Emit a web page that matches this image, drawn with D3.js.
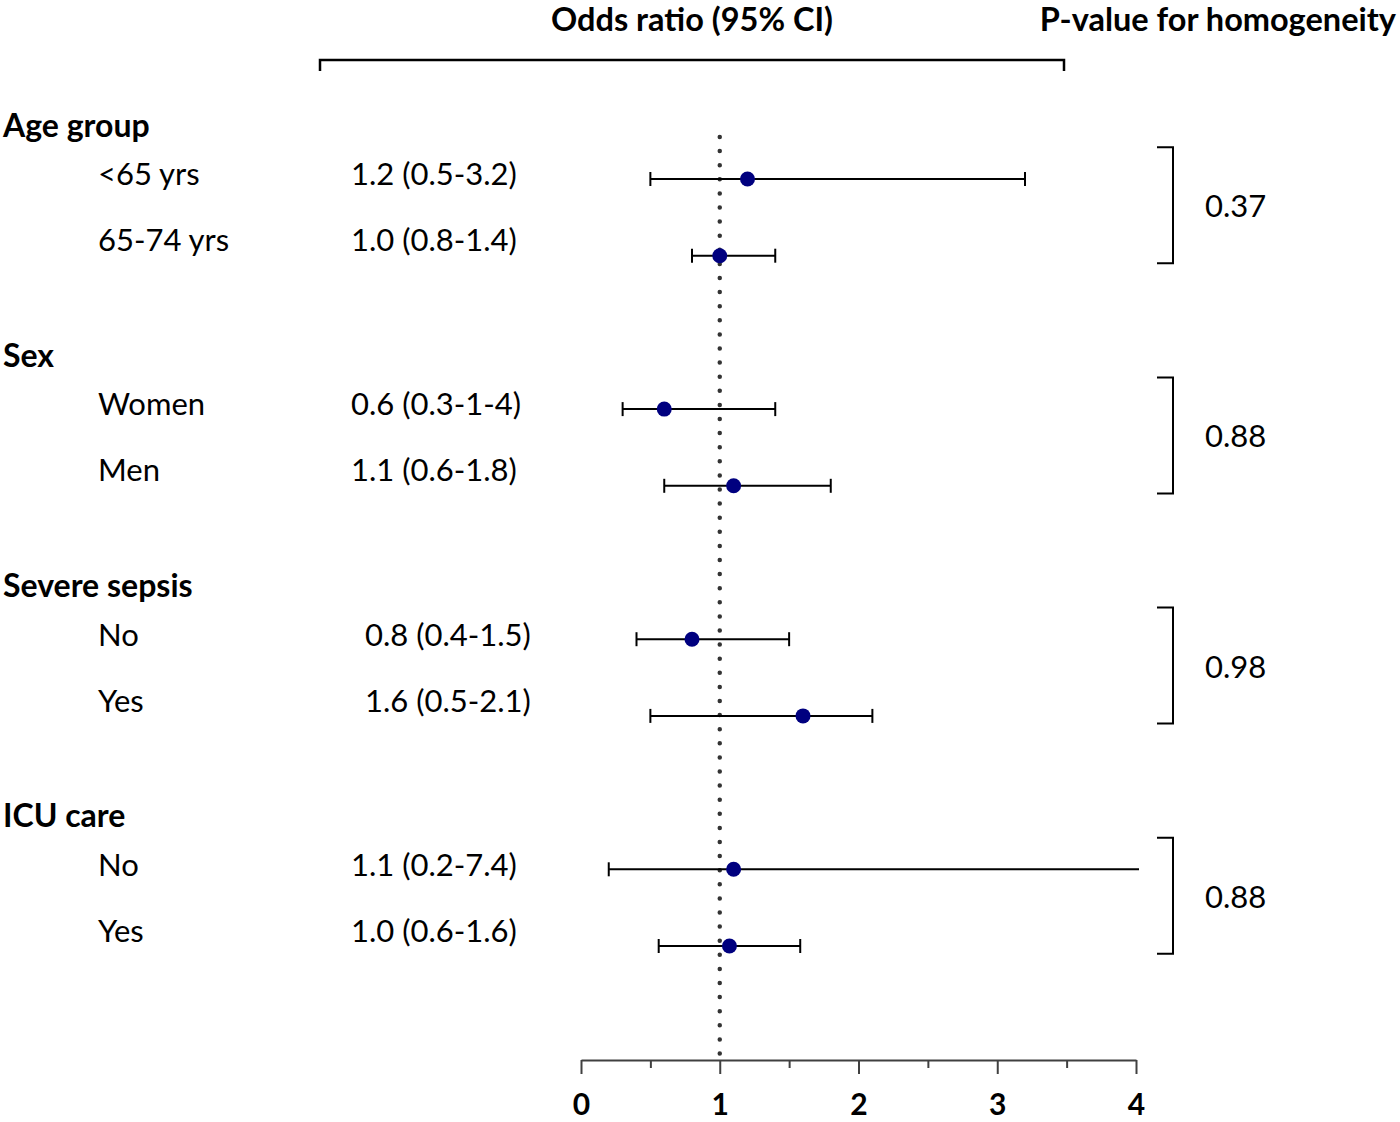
<!DOCTYPE html>
<html>
<head>
<meta charset="utf-8">
<script src="https://cdn.jsdelivr.net/npm/d3@7"></script>
<style>
  body { margin: 0; background: #fff; }
  svg { display: block; }
  text { font-family: Lato, "Open Sans", sans-serif; fill: #000; }
</style>
</head>
<body>
<div id="chart"></div>
<script>
// subgroup data
const groups = ["Age group", "Sex", "Severe sepsis", "ICU care"];
const rowLabels = ["<65 yrs", "65-74 yrs", "Women", "Men", "No", "Yes", "No", "Yes"];
const rowGroup = [0, 0, 1, 1, 2, 2, 3, 3];
const orText = ["1.2 (0.5-3.2)", "1.0 (0.8-1.4)", "0.6 (0.3-1-4)", "1.1 (0.6-1.8)",
                "0.8 (0.4-1.5)", "1.6 (0.5-2.1)", "1.1 (0.2-7.4)", "1.0 (0.6-1.6)"];
const orValue = [1.2, 1.0, 0.6, 1.1, 0.8, 1.6, 1.1, 1.07];
const ciLow = [0.5, 0.8, 0.3, 0.6, 0.4, 0.5, 0.2, 0.56];
const ciHigh = [3.2, 1.4, 1.4, 1.8, 1.5, 2.1, 7.4, 1.58];
const pValues = ["0.37", "0.88", "0.98", "0.88"];
const xTicks = [0, 1, 2, 3, 4];
const xMinorTicks = [0.5, 1.5, 2.5, 3.5];

const width = 1400, height = 1122;

const svg = d3.select("#chart").append("svg")
    .attr("width", width)
    .attr("height", height);

const x = d3.scaleLinear().domain([0, 4]).range([581, 1136]);
// each group takes 3 slots, rows sit in the first two
const y = d3.scaleLinear().domain([0, 10]).range([179, 946]);
const slot = i => rowGroup[i] * 3 + (i % 2);
const axisY = 1060;

// headers
svg.append("text")
    .attr("x", 692).attr("y", 18)
    .attr("text-anchor", "middle")
    .attr("dominant-baseline", "central")
    .style("font-size", "32.5px").style("font-weight", "bold")
    .text("Odds ratio (95% CI)");

svg.append("text")
    .attr("x", 1396).attr("y", 18)
    .attr("text-anchor", "end")
    .attr("dominant-baseline", "central")
    .style("font-size", "32.5px").style("font-weight", "bold")
    .text("P-value for homogeneity");

svg.append("path")
    .attr("d", "M320,71V60H1064V71")
    .attr("fill", "none")
    .attr("stroke", "#000")
    .attr("stroke-width", 2.5);

// group titles
svg.selectAll(".group-title")
    .data(groups)
    .enter().append("text")
    .attr("class", "group-title")
    .attr("x", 3)
    .attr("y", (d, g) => y(g * 3) - 55)
    .attr("dominant-baseline", "central")
    .style("font-size", "32px").style("font-weight", "bold")
    .text(d => d);

// row labels and odds ratio text
const groupMid = g => (y(g * 3) + y(g * 3 + 1)) / 2;
const labelY = i => groupMid(rowGroup[i]) - 11 + (i % 2 ? 33 : -33);

svg.selectAll(".row-label")
    .data(rowLabels)
    .enter().append("text")
    .attr("class", "row-label")
    .attr("x", 98)
    .attr("y", (d, i) => labelY(i))
    .attr("dominant-baseline", "central")
    .style("font-size", "31px")
    .text(d => d);

svg.selectAll(".or-text")
    .data(orText)
    .enter().append("text")
    .attr("class", "or-text")
    .attr("x", (d, i) => rowGroup[i] === 2 ? 365 : 351)
    .attr("y", (d, i) => labelY(i))
    .attr("dominant-baseline", "central")
    .style("font-size", "31px")
    .text(d => d);

// reference line at OR = 1
svg.append("line")
    .attr("x1", x(1)).attr("x2", x(1))
    .attr("y1", 137).attr("y2", axisY - 6)
    .attr("stroke", "#333")
    .attr("stroke-width", 4.5)
    .attr("stroke-linecap", "round")
    .attr("stroke-dasharray", "0,14.1");

// confidence intervals
const xMaxPx = x.range()[1] + 3;
const rows = orValue.map((v, i) => ({ v, lo: ciLow[i], hi: ciHigh[i], i }));

const ci = svg.selectAll(".ci")
    .data(rows)
    .enter().append("g")
    .attr("class", "ci")
    .attr("transform", d => `translate(0,${y(slot(d.i))})`);

ci.append("line")
    .attr("x1", d => x(d.lo))
    .attr("x2", d => Math.min(x(d.hi), xMaxPx))
    .attr("stroke", "#000")
    .attr("stroke-width", 2);

ci.append("line")
    .attr("x1", d => x(d.lo)).attr("x2", d => x(d.lo))
    .attr("y1", -7).attr("y2", 7)
    .attr("stroke", "#000").attr("stroke-width", 2);

ci.filter(d => x(d.hi) <= xMaxPx).append("line")
    .attr("x1", d => x(d.hi)).attr("x2", d => x(d.hi))
    .attr("y1", -7).attr("y2", 7)
    .attr("stroke", "#000").attr("stroke-width", 2);

ci.append("circle")
    .attr("cx", d => x(d.v))
    .attr("r", 7.5)
    .attr("fill", "#00007f");

// p-value brackets
const pg = svg.selectAll(".pval")
    .data(pValues)
    .enter().append("g")
    .attr("class", "pval")
    .attr("transform", (d, g) => `translate(0,${groupMid(g) - 12})`);

pg.append("path")
    .attr("d", "M1157,-58H1173V58H1157")
    .attr("fill", "none")
    .attr("stroke", "#000")
    .attr("stroke-width", 2);

pg.append("text")
    .attr("x", 1205)
    .attr("dominant-baseline", "central")
    .style("font-size", "31px")
    .text(d => d);

// x axis
const axisG = svg.append("g")
    .attr("transform", `translate(0,${axisY})`);

axisG.append("g")
    .call(d3.axisBottom(x).tickValues(xMinorTicks).tickSize(8).tickSizeOuter(0).tickFormat(""))
    .call(g => g.select(".domain").remove());

axisG.append("g")
    .call(d3.axisBottom(x).tickValues(xTicks).tickSize(14).tickSizeOuter(0).tickPadding(20).tickFormat(d3.format("d")));

axisG.selectAll("line, path")
    .attr("stroke", "#404040")
    .attr("stroke-width", 2);

axisG.selectAll("text")
    .attr("fill", "#000")
    .style("font-family", "Lato, 'Open Sans', sans-serif")
    .style("font-size", "30px")
    .style("font-weight", "bold");
</script>
</body>
</html>
